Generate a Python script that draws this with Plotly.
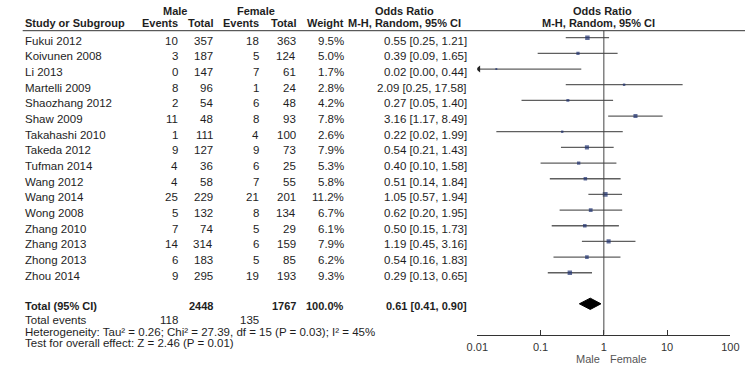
import plotly.graph_objects as go

W, H = 754, 369

studies = ["Fukui 2012", "Koivunen 2008", "Li 2013", "Martelli 2009", "Shaozhang 2012",
           "Shaw 2009", "Takahashi 2010", "Takeda 2012", "Tufman 2014", "Wang 2012",
           "Wang 2014", "Wong 2008", "Zhang 2010", "Zhang 2013", "Zhong 2013", "Zhou 2014"]
male_events = [10, 3, 0, 8, 2, 11, 1, 9, 4, 4, 25, 5, 7, 14, 6, 9]
male_total = [357, 187, 147, 96, 54, 48, 111, 127, 36, 58, 229, 132, 74, 314, 183, 295]
female_events = [18, 5, 7, 1, 6, 8, 4, 9, 6, 7, 21, 8, 5, 6, 5, 19]
female_total = [363, 124, 61, 24, 48, 93, 100, 73, 25, 55, 201, 134, 29, 159, 85, 193]
weights = [9.5, 5.0, 1.7, 2.8, 4.2, 7.8, 2.6, 7.9, 5.3, 5.8, 11.2, 6.7, 6.1, 7.9, 6.2, 9.3]
or_est = [0.55, 0.39, 0.02, 2.09, 0.27, 3.16, 0.22, 0.54, 0.40, 0.51, 1.05, 0.62, 0.50, 1.19, 0.54, 0.29]
ci_lo = [0.25, 0.09, 0.00, 0.25, 0.05, 1.17, 0.02, 0.21, 0.10, 0.14, 0.57, 0.20, 0.15, 0.45, 0.16, 0.13]
ci_hi = [1.21, 1.65, 0.44, 17.58, 1.40, 8.49, 1.99, 1.43, 1.58, 1.84, 1.94, 1.95, 1.73, 3.16, 1.83, 0.65]

total_male = 2448
total_female = 1767
total_weight = "100.0%"
total_events_male = 118
total_events_female = 135
pooled_or, pooled_lo, pooled_hi = 0.61, 0.41, 0.90
heterogeneity = "Heterogeneity: Tau² = 0.26; Chi² = 27.39, df = 15 (P = 0.03); I² = 45%"
overall = "Test for overall effect: Z = 2.46 (P = 0.01)"

tick_vals = [0.01, 0.1, 1, 10, 100]
tick_text = ["0.01", "0.1", "1", "10", "100"]
axis_min, axis_max = 0.01, 100

FONT = "Liberation Sans, Arial, sans-serif"
TXT = "#1e1e1e"
G0, DY = 37.7, 15.67      # pixel of first graphic row, row spacing
TEXT_SHIFT = -1.0         # annotation box centre vs visual centre


def row_of(p):
    return (p - G0) / DY


def px(x):
    return x / W


fig = go.Figure()

n = len(studies)
rows = list(range(n))

# CI lines
xs, ys = [], []
arrow_x, arrow_y = [], []
for i in rows:
    lo = ci_lo[i]
    if lo < axis_min:
        arrow_x.append(axis_min * 1.05)
        arrow_y.append(i)
        lo = axis_min
    xs += [lo, ci_hi[i], None]
    ys += [i, i, None]
fig.add_trace(go.Scatter(x=xs, y=ys, mode="lines", line=dict(color="#5f5f5f", width=1.3),
                         hoverinfo="skip", showlegend=False))
fig.add_trace(go.Scatter(x=arrow_x, y=arrow_y, mode="markers",
                         marker=dict(symbol="triangle-left", size=6, color="#222"),
                         hoverinfo="skip", showlegend=False))
# squares
fig.add_trace(go.Scatter(x=or_est, y=rows, mode="markers",
                         marker=dict(symbol="square", color="#1f3270",
                                     size=[1.45 * w ** 0.5 for w in weights], line=dict(width=0)),
                         showlegend=False))
# diamond
tr = row_of(303.8)
hh = 0.36
fig.add_trace(go.Scatter(x=[pooled_lo, pooled_or, pooled_hi, pooled_or, pooled_lo],
                         y=[tr, tr - hh, tr, tr + hh, tr], mode="lines", fill="toself",
                         fillcolor="black", line=dict(color="black", width=1),
                         hoverinfo="skip", showlegend=False))

axis_px = 334.5
fig.add_shape(type="line", xref="x", yref="y", x0=1, x1=1, y0=row_of(30.7), y1=row_of(axis_px),
              line=dict(color="#444", width=1))
fig.add_shape(type="line", xref="paper", yref="y", x0=px(12), x1=1, y0=row_of(30.7), y1=row_of(30.7),
              line=dict(color="#333", width=1))

ann = []


def T(x, ypx, text, anchor="right", bold=False, color=TXT, size=None):
    if bold:
        text = "<b>" + text + "</b>"
    if size is None:
        size = 11 if bold else 11.5
    ann.append(dict(x=px(x), y=row_of(ypx + TEXT_SHIFT), xref="paper", yref="y", text=text,
                    showarrow=False, xanchor=anchor, yanchor="middle",
                    font=dict(family=FONT, size=size, color=color), borderpad=0))


# headers
h1, h2 = 12, 24
T(168, h1, "Male", "center", True)
T(252, h1, "Female", "center", True)
T(404, h1, "Odds Ratio", "center", True)
T(608, h1, "Odds Ratio", "center", True)
T(13, h2, "Study or Subgroup", "left", True)
T(173, h2, "Events", bold=True)
T(209, h2, "Total", bold=True)
T(256, h2, "Events", bold=True)
T(294, h2, "Total", bold=True)
T(343, h2, "Weight", bold=True)
T(404, h2, "M-H, Random, 95% CI", "center", True)
T(603, h2, "M-H, Random, 95% CI", "center", True)

for i in rows:
    yp = 41.7 + DY * i
    T(13, yp, studies[i], "left")
    T(173, yp, str(male_events[i]))
    T(209, yp, str(male_total[i]))
    T(256, yp, str(female_events[i]))
    T(294, yp, str(female_total[i]))
    T(343, yp, f"{weights[i]:.1f}%")
    T(469, yp, f"{or_est[i]:.2f} [{ci_lo[i]:.2f}, {ci_hi[i]:.2f}]")

yt = 306.7
T(13, yt, "Total (95% CI)", "left", True)
T(209, yt, str(total_male), bold=True)
T(294, yt, str(total_female), bold=True)
T(343, yt, total_weight, bold=True)
T(469, yt, f"{pooled_or:.2f} [{pooled_lo:.2f}, {pooled_hi:.2f}]", bold=True)
T(13, 321, "Total events", "left")
T(173, 321, str(total_events_male))
T(256, 321, str(total_events_female))
T(13, 332.5, heterogeneity, "left")
T(13, 344, overall, "left")
T(606, 360, "Male", "right", color="#555", size=11)
T(614, 360, "Female", "left", color="#555", size=11)

fig.update_layout(
    width=W, height=H, margin=dict(l=0, r=0, t=0, b=0),
    paper_bgcolor="white", plot_bgcolor="white",
    annotations=ann,
    font=dict(family=FONT, size=11, color=TXT),
    xaxis=dict(type="log", range=[-2, 2], domain=[479 / W, 739 / W], anchor="free",
               position=1 - axis_px / H, tickvals=tick_vals, ticktext=tick_text,
               showgrid=False, zeroline=False, showline=True, linecolor="#333", linewidth=1,
               ticks="inside", ticklen=5, tickcolor="#333", ticklabelstandoff=2,
               tickfont=dict(family=FONT, size=11, color="#333")),
    yaxis=dict(range=[row_of(H), row_of(0)], domain=[0, 1], visible=False, showgrid=False,
               zeroline=False),
)

fig.write_html("out.html", config={"displayModeBar": False},
               post_script="document.body.style.margin='0';document.body.style.padding='0';")
